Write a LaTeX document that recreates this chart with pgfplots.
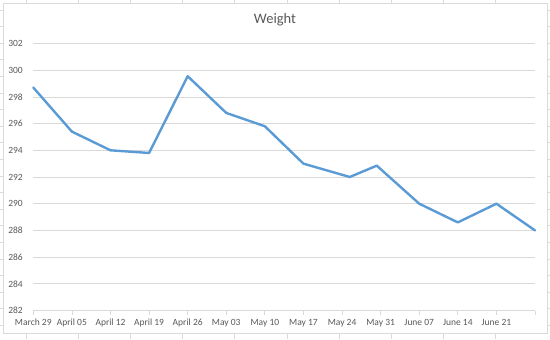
\documentclass[border=0pt]{standalone}
\usepackage{pgfplots}
\pgfplotsset{compat=1.18}
\usepackage{fontspec}
\setmainfont{Carlito}
\definecolor{txt}{HTML}{595959}
\definecolor{gridc}{HTML}{D9D9D9}
\definecolor{cell}{HTML}{DADADA}
\definecolor{ln}{HTML}{5B9BD5}
\begin{document}
\begin{tikzpicture}[x=1bp,y=1bp]
\useasboundingbox (-33.3,-28.5) rectangle (516.7,310.5);
% spreadsheet cell lines outside the chart
\foreach \c in {26,78.2,130.4,182.6,234.8,287,339.2,391.4,443.6,495.8} {
  \draw[cell, line width=0.7bp] (\c-33.3,310.5) -- (\c-33.3,306);
  \draw[cell, line width=0.7bp] (\c-33.3,-28.5) -- (\c-33.3,-22);
}
\foreach \r in {10,26.6,43.2,59.8,76.4,93,109.6,126.2,142.8,159.4,176,192.6,209.2,225.8,242.4,259,275.6,292.2,308.8,325.4} {
  \draw[cell, line width=0.7bp] (-33.3,310.5-\r) -- (-29.5,310.5-\r);
  \draw[cell, line width=0.7bp] (513,310.5-\r) -- (516.7,310.5-\r);
}
\draw[cell, line width=0.8bp, fill=white] (-30.3,307.5) rectangle (513.7,-22.5);
\node[txt, font=\fontsize{14.5bp}{16bp}\selectfont] at (241.7,290.5) {Weight};
\begin{axis}[
  at={(0,0)}, anchor=south west,
  scale only axis, width=501.7bp, height=267bp,
  xmin=0, xmax=13, ymin=282, ymax=302,
  xtick={0,...,13},
  xticklabels={March 29,April 05,April 12,April 19,April 26,May 03,May 10,May 17,May 24,May 31,June 07,June 14,June 21,{}},
  ytick={282,284,...,302},
  ymajorgrids, grid style={gridc, line width=0.75bp},
  axis x line*=bottom, axis y line*=left,
  x axis line style={gridc, line width=0.75bp, -},
  y axis line style={draw=none},
  tick align=outside, major tick length=4bp,
  xtick style={gridc, line width=0.75bp},
  ytick style={draw=none},
  tick label style={txt, font=\fontsize{9.5bp}{11bp}\selectfont},
  x tick label style={yshift=-1bp},
  y tick label style={xshift=-3bp},
  /pgf/number format/assume math mode=true,
  clip=false,
]
\addplot[ln, line width=2.4bp, line join=round, line cap=round] coordinates {
(0,298.7) (1,295.4) (2,294.0) (3,293.8) (4,299.55) (5,296.8) (6,295.8)
(7,293.0) (8.2,292.0) (8.9,292.85) (10,290.0) (11,288.6) (12,290.0) (13,288.0)
};
\end{axis}
\end{tikzpicture}
\end{document}
